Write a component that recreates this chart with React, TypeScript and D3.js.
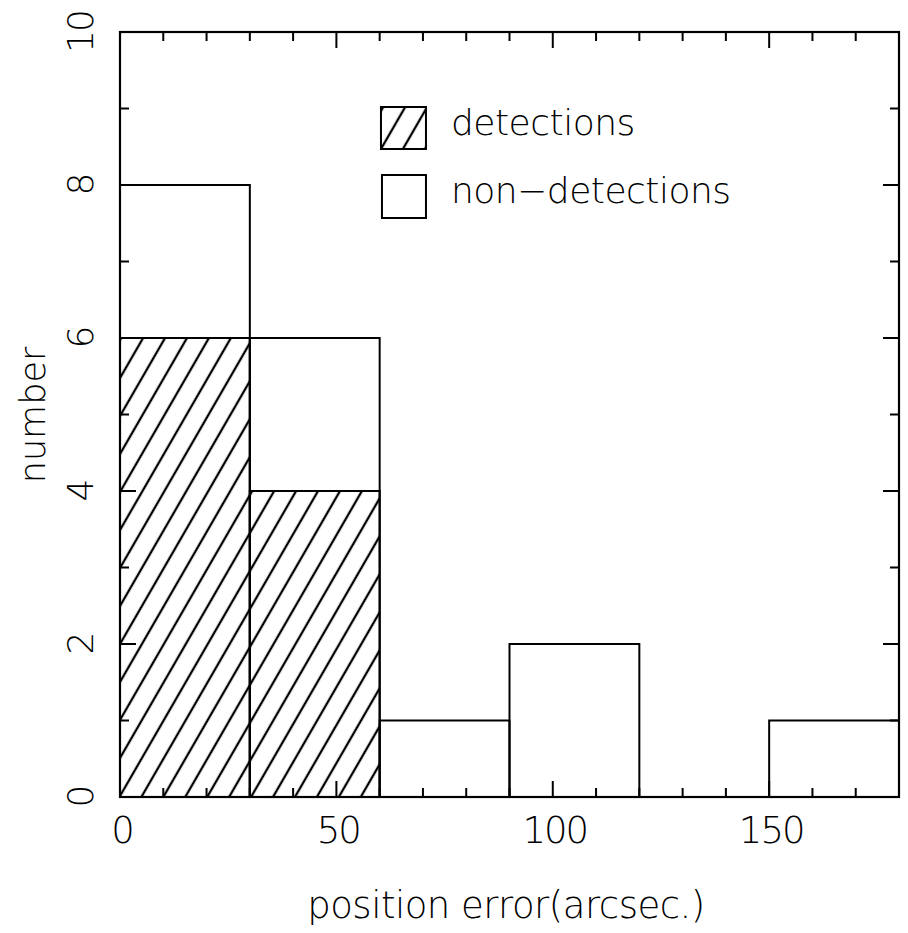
import { useEffect, useRef } from 'react'
import * as d3 from 'd3'

// histogram bins (arcsec)
const binEdges = [0, 30, 60, 90, 120, 150, 180]
const totalCounts = [8, 6, 1, 2, 0, 1]
const detectionCounts = [6, 4, 0, 0, 0, 0]

const xMajorTicks = [0, 50, 100, 150]
const yMajorTicks = [0, 2, 4, 6, 8, 10]

const legendLabels = ['detections', 'non−detections']

const FONT = "'DejaVu Sans', sans-serif"

export default function App() {
  const svgRef = useRef<SVGSVGElement | null>(null)

  useEffect(() => {
    if (!svgRef.current) return
    const totalW = 908
    const totalH = 933
    const margin = { left: 120, top: 32, right: 9, bottom: 136 }
    const W = totalW - margin.left - margin.right
    const H = totalH - margin.top - margin.bottom

    const root = d3.select(svgRef.current)
    root.selectAll('*').remove()
    root.attr('width', totalW).attr('height', totalH)

    // hatch pattern
    const defs = root.append('defs')
    const pat = defs.append('pattern')
      .attr('id', 'hatch')
      .attr('patternUnits', 'userSpaceOnUse')
      .attr('width', 19).attr('height', 19)
      .attr('patternTransform', 'rotate(30)')
    pat.append('line')
      .attr('x1', 2).attr('x2', 2)
      .attr('y1', -2).attr('y2', 21)
      .attr('stroke', '#000').attr('stroke-width', 2.3)

    const svg = root.append('g').attr('transform', `translate(${margin.left},${margin.top})`)

    const x = d3.scaleLinear().domain([0, 180]).range([0, W])
    const y = d3.scaleLinear().domain([0, 10]).range([H, 0])

    const bins = totalCounts.map((c, i) => ({
      x0: binEdges[i], x1: binEdges[i + 1], total: c, det: detectionCounts[i],
    }))

    // detections (hatched)
    svg.selectAll('.det')
      .data(bins.filter(d => d.det > 0))
      .join('rect')
      .attr('x', d => x(d.x0)).attr('width', d => x(d.x1) - x(d.x0))
      .attr('y', d => y(d.det)).attr('height', d => H - y(d.det))
      .attr('fill', 'url(#hatch)')
      .attr('stroke', '#000').attr('stroke-width', 2)

    // totals (outline)
    svg.selectAll('.tot')
      .data(bins.filter(d => d.total > 0))
      .join('rect')
      .attr('x', d => x(d.x0)).attr('width', d => x(d.x1) - x(d.x0))
      .attr('y', d => y(d.total)).attr('height', d => H - y(d.total))
      .attr('fill', 'none')
      .attr('stroke', '#000').attr('stroke-width', 2)

    // frame
    svg.append('rect')
      .attr('x', 0).attr('y', 0).attr('width', W).attr('height', H)
      .attr('fill', 'none').attr('stroke', '#000').attr('stroke-width', 2.2)

    // ticks on all four sides, pointing inward
    const xMinor = d3.range(0, 181, 10)
    const yMinor = d3.range(0, 11, 1)
    const tickG = svg.append('g').attr('stroke', '#000').attr('stroke-width', 2)
    xMinor.forEach(v => {
      const len = v % 50 === 0 ? 16 : 9
      tickG.append('line').attr('x1', x(v)).attr('x2', x(v)).attr('y1', H).attr('y2', H - len)
      tickG.append('line').attr('x1', x(v)).attr('x2', x(v)).attr('y1', 0).attr('y2', len)
    })
    yMinor.forEach(v => {
      const len = v % 2 === 0 ? 16 : 9
      tickG.append('line').attr('x1', 0).attr('x2', len).attr('y1', y(v)).attr('y2', y(v))
      tickG.append('line').attr('x1', W).attr('x2', W - len).attr('y1', y(v)).attr('y2', y(v))
    })

    const txt = (sel: any, size: number, ls = 0) =>
      sel.attr('font-family', FONT).attr('font-weight', 200).attr('font-size', size)
        .attr('letter-spacing', ls).attr('fill', '#000')

    // x tick labels
    svg.selectAll('.xl')
      .data(xMajorTicks)
      .join('text')
      .attr('x', d => x(d) + 2).attr('y', H + 46)
      .attr('text-anchor', 'middle')
      .call(txt, 37, -2)
      .text(d => d)

    // y tick labels (rotated)
    svg.selectAll('.yl')
      .data(yMajorTicks)
      .join('text')
      .attr('transform', d => `translate(-27,${y(d)}) rotate(-90)`)
      .attr('text-anchor', 'middle')
      .call(txt, 36, -2)
      .text(d => d)

    // axis titles
    svg.append('text')
      .attr('x', 506 - margin.left).attr('y', H + 121)
      .attr('text-anchor', 'middle')
      .call(txt, 37, -0.5)
      .text('position error(arcsec.)')
    svg.append('text')
      .attr('transform', `translate(-75,${415 - margin.top}) rotate(-90)`)
      .attr('text-anchor', 'middle')
      .call(txt, 35, 0)
      .text('number')

    // legend
    const lg = svg.append('g').attr('transform', `translate(${x(60.3)},${y(9) - 1.5})`)
    lg.append('rect')
      .attr('x', 0).attr('y', 0).attr('width', 45).attr('height', 42)
      .attr('fill', 'url(#hatch)').attr('stroke', '#000').attr('stroke-width', 2)
    lg.append('rect')
      .attr('x', 1).attr('y', 68).attr('width', 44).attr('height', 43)
      .attr('fill', 'none').attr('stroke', '#000').attr('stroke-width', 2)
    lg.selectAll('.lt')
      .data(legendLabels)
      .join('text')
      .attr('x', 70).attr('y', (d, i) => 28 + i * 68)
      .call(txt, 36, -0.5)
      .text(d => d)
  }, [])

  return (
    <svg ref={svgRef} style={{ position: 'absolute', left: 0, top: 0, background: '#fff' }} />
  )
}
